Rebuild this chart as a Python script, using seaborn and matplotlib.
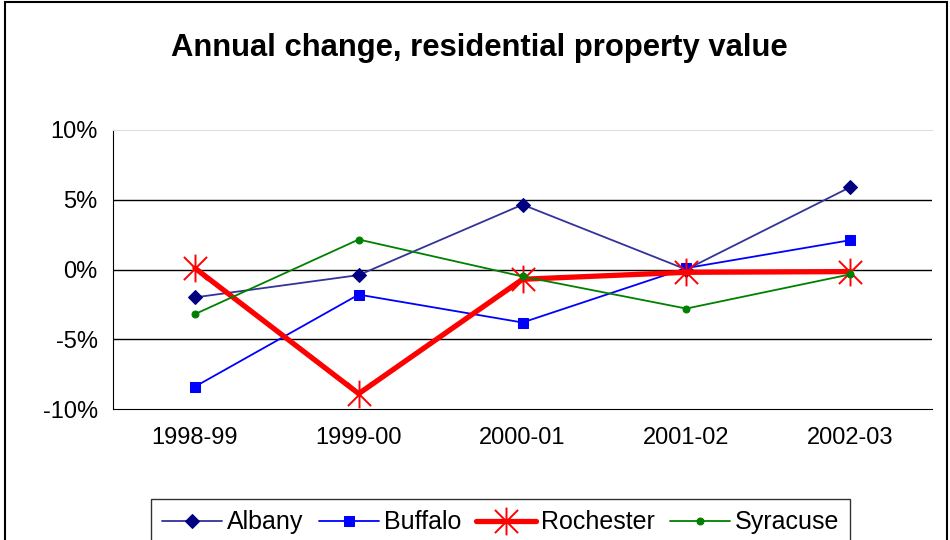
import pandas as pd
import numpy as np
import seaborn as sns
import matplotlib.pyplot as plt
from matplotlib.patches import Rectangle
from matplotlib.path import Path
from matplotlib.ticker import FixedLocator, FuncFormatter

# dati (variazione annua %)
periodi = ["1998-99", "1999-00", "2000-01", "2001-02", "2002-03"]
albany = [-2.0, -0.4, 4.65, 0.0, 5.9]
buffalo = [-8.4, -1.8, -3.8, 0.1, 2.1]
rochester = [0.1, -8.9, -0.7, -0.2, -0.15]
syracuse = [-3.2, 2.15, -0.5, -2.8, -0.35]
citta = ["Albany", "Buffalo", "Rochester", "Syracuse"]

df = pd.DataFrame({"Periodo": periodi * 4,
                   "pos": list(range(5)) * 4,
                   "Valore": albany + buffalo + rochester + syracuse,
                   "Citta": np.repeat(citta, 5)})

sns.set_style("white")
plt.rcParams["font.family"] = ["Liberation Sans", "DejaVu Sans"]
plt.rcParams["text.color"] = "black"
plt.rcParams["xtick.color"] = "black"
plt.rcParams["ytick.color"] = "black"

# asterisco stile Excel: X piu' linea verticale
stella = Path([(-1, -1), (1, 1), (-1, 1), (1, -1), (0, -1.2), (0, 1.2)],
              [Path.MOVETO, Path.LINETO, Path.MOVETO, Path.LINETO, Path.MOVETO, Path.LINETO])

fig = plt.figure(figsize=(9.5, 5.4), dpi=100)
ax = fig.add_axes([113/950, 1-409/540, (932-113)/950, (409-130)/540])

# stile delle serie, come in Excel
stili = {
    "Albany":    dict(color="#333399", marker="D", markersize=7.5, markerfacecolor="#000080",
                      markeredgecolor="#000080", linewidth=1.3),
    "Buffalo":   dict(color="#0000FF", marker="s", markersize=7.5, markerfacecolor="#0000FF",
                      markeredgecolor="#0000FF", linewidth=1.3),
    "Rochester": dict(color="#FF0000", marker=stella, markersize=20, markeredgecolor="#FF0000",
                      markerfacecolor="none", markeredgewidth=1.4, linewidth=3.8),
    "Syracuse":  dict(color="#008000", marker="o", markersize=5, markerfacecolor="#008000",
                      markeredgecolor="#008000", linewidth=1.3),
}
for c in citta:
    sns.lineplot(data=df[df["Citta"] == c], x="pos", y="Valore", ax=ax, label=c,
                 legend=False, **stili[c])

ax.set_xlim(-0.5, 4.5)
ax.set_ylim(-10, 10)
ax.set_yticks([-10, -5, 0, 5, 10])
ax.yaxis.set_major_formatter(FuncFormatter(lambda v, p: f"{v:.0f}%"))
ax.set_xticks(range(5))
ax.set_xticklabels(periodi)
ax.xaxis.set_minor_locator(FixedLocator(np.arange(-0.5, 5, 1)))
ax.tick_params(axis="x", which="major", length=0, labelsize=17, pad=13)
ax.tick_params(axis="x", which="minor", length=7, width=1, color="black", direction="out")
ax.tick_params(axis="y", length=6, width=1, color="black", direction="out", labelsize=17, pad=5)
ax.set_xlabel("")
ax.set_ylabel("")

# griglia orizzontale nera
for v in [-5, 0, 5]:
    ax.axhline(v, color="black", linewidth=1, zorder=0)
ax.spines["top"].set_color("#DDDDDD")
ax.spines["right"].set_visible(False)
ax.spines["left"].set_color("black")
ax.spines["bottom"].set_color("black")

fig.text(0.505, 1-48/540, "Annual change, residential property value", ha="center", va="center",
         fontsize=22.3, fontweight="bold")

leg = fig.legend(*ax.get_legend_handles_labels(), loc="upper center", ncol=4,
                 bbox_to_anchor=(0.527, 1-499/540), fontsize=18, frameon=True, fancybox=False,
                 handlelength=2.4, handletextpad=0.2, columnspacing=0.6, borderpad=0.45,
                 borderaxespad=0)
leg.get_frame().set_edgecolor("black")
leg.get_frame().set_linewidth(1)

# bordo dell'area del grafico
fig.add_artist(Rectangle((5/950, -0.1), 942/950, 1.1 - 2/540, transform=fig.transFigure,
                         fill=False, edgecolor="black", linewidth=1.5))

fig.savefig("out.png", dpi=100)
